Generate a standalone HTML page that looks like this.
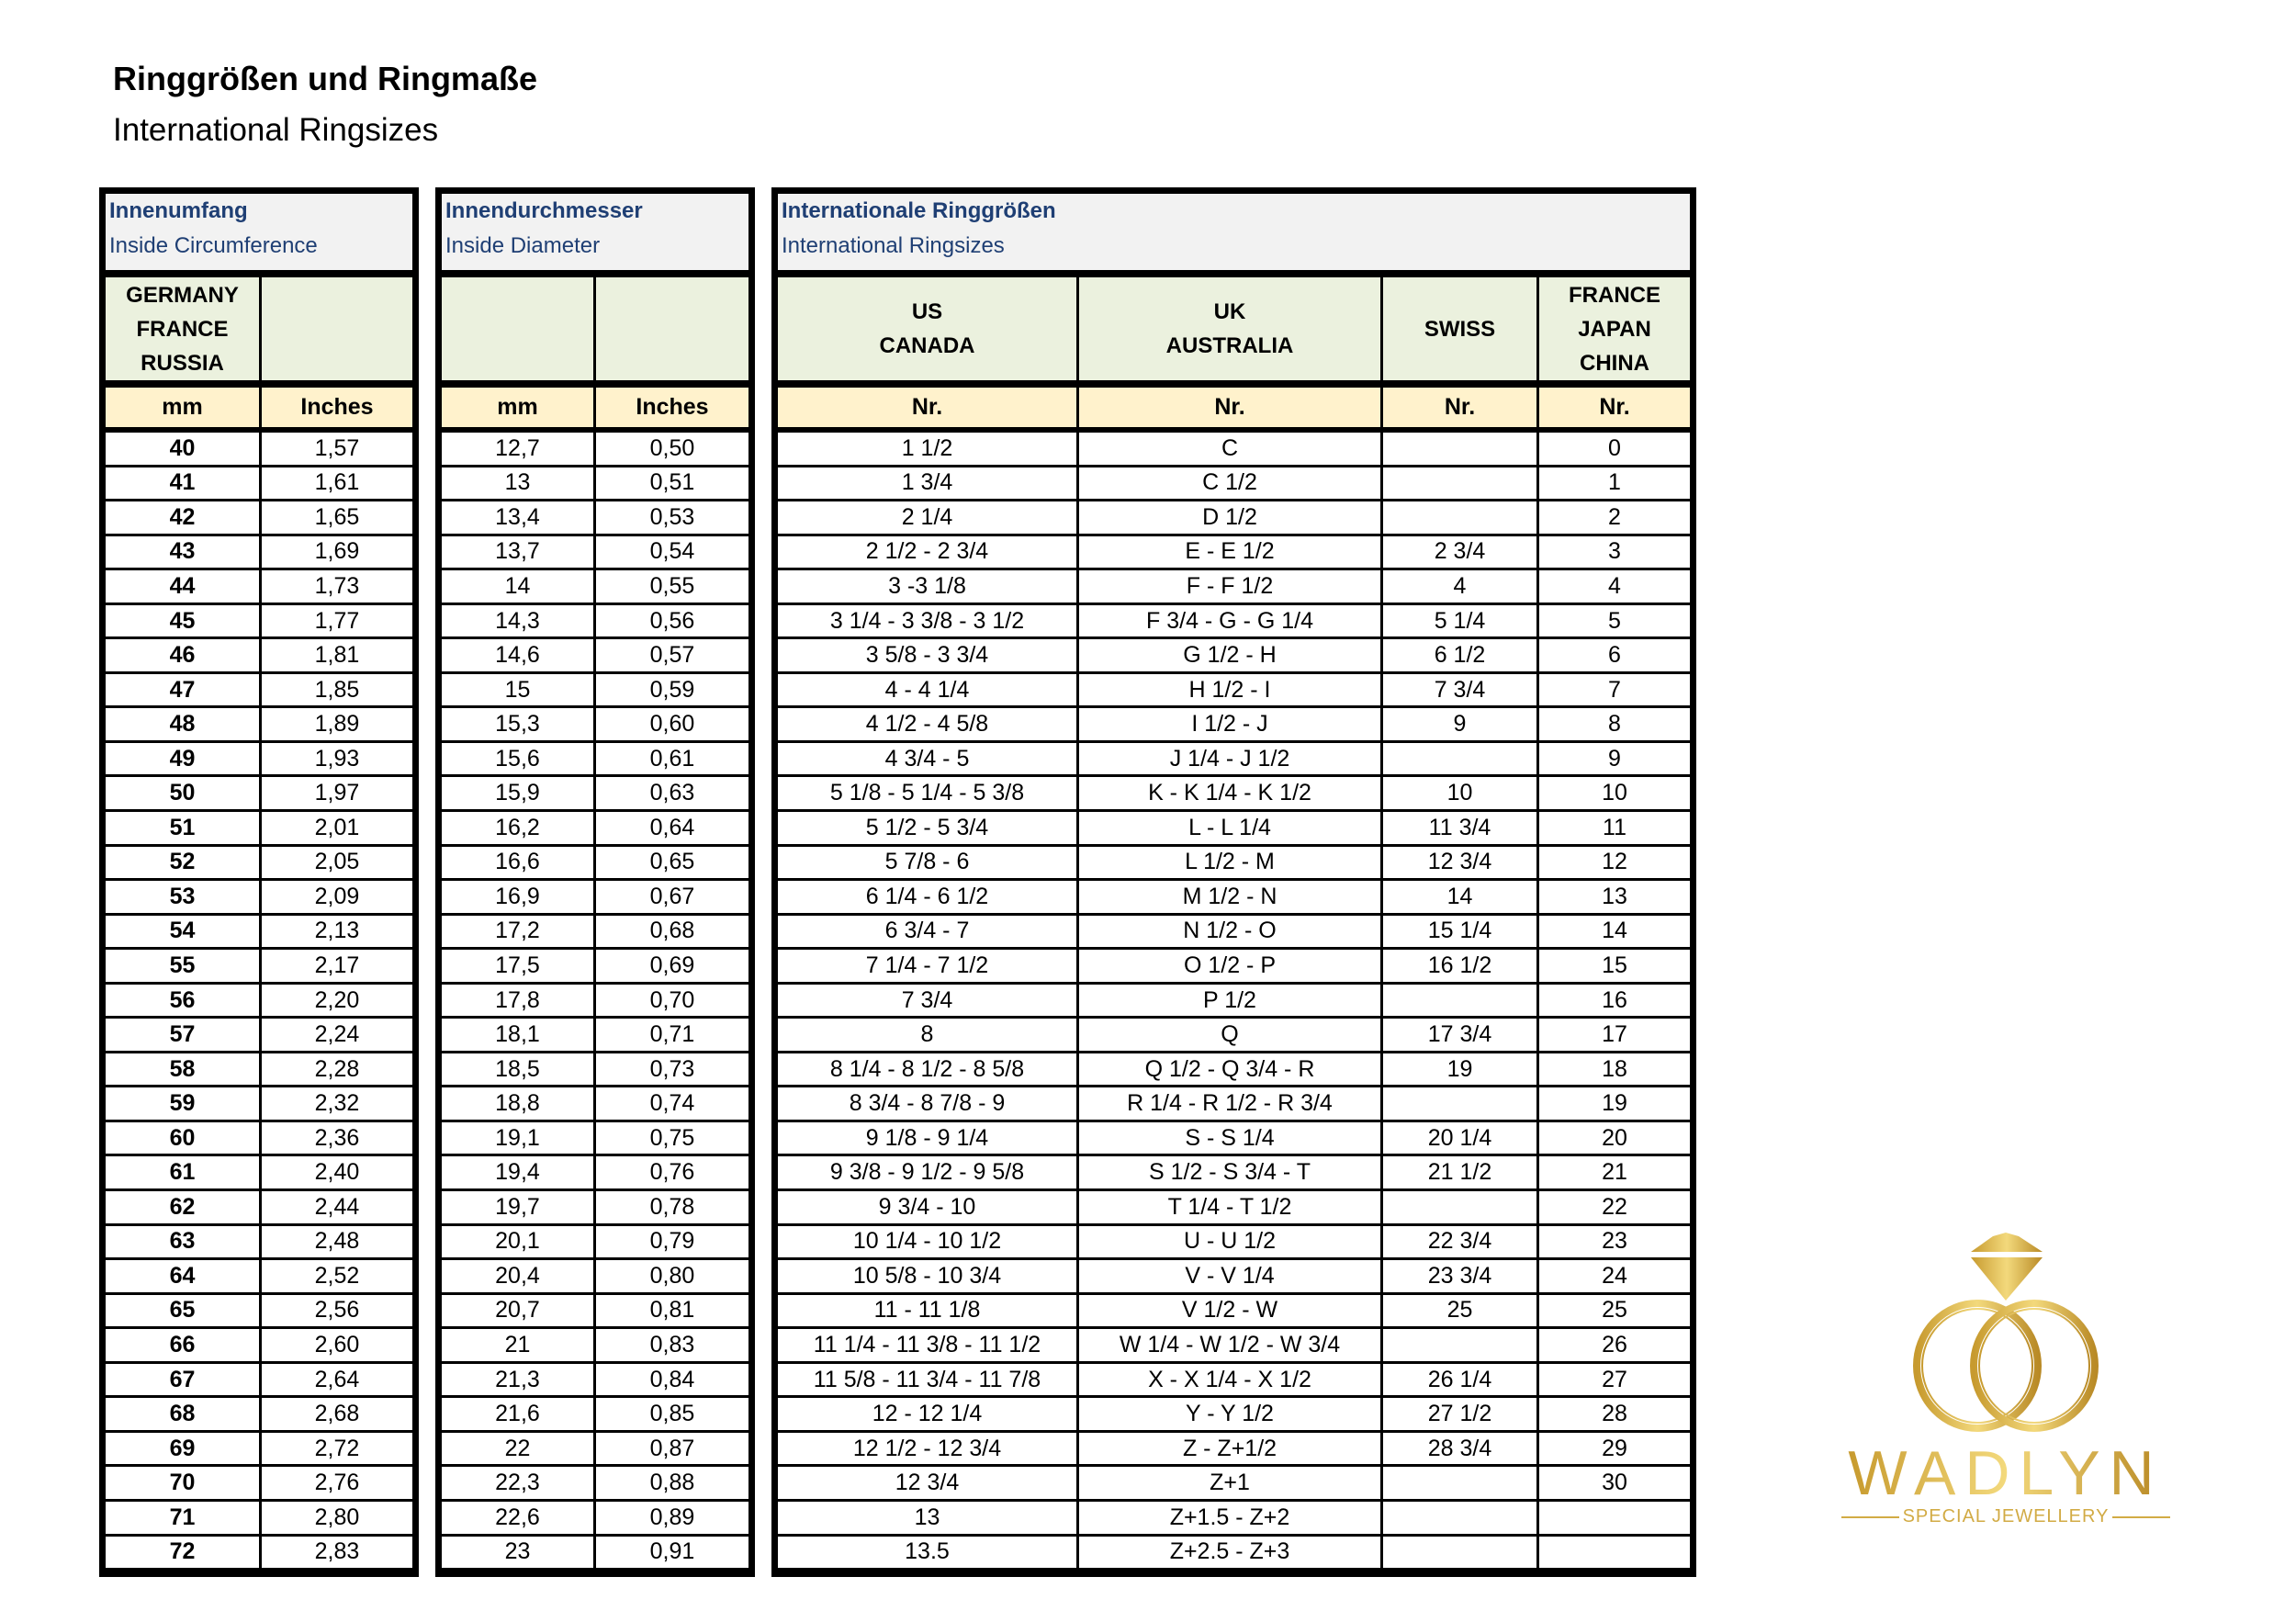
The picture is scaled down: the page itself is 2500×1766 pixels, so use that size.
<!DOCTYPE html>
<html><head><meta charset="utf-8"><style>
*{margin:0;padding:0;box-sizing:border-box}
body{width:2500px;height:1766px;background:#fff;position:relative;overflow:hidden;font-family:"Liberation Sans",sans-serif;color:#000}
.t{position:absolute;top:204px;height:1513px;background:#000;padding:7px;display:grid;column-gap:3px;row-gap:3px;grid-template-rows:88px 117px 46px repeat(33,34.55px)}
.c{background:#fff;display:flex;align-items:center;justify-content:center;font-size:25px;white-space:nowrap}
.b{font-weight:bold}
.h{grid-column:1/-1;background:#f2f2f2;margin-bottom:5px;color:#1f3f74;font-size:24px;line-height:38px;padding-left:4px;white-space:nowrap}
.g{background:#ebf1de;margin-bottom:5px;font-weight:bold;font-size:24px;line-height:37px;flex-direction:column;text-align:center}
.y{background:#fff2cc;margin-bottom:3px;font-weight:bold;font-size:25px}
</style></head><body>
<div style="position:absolute;left:123px;top:62px;font-size:36px;font-weight:bold;line-height:48px;white-space:nowrap">Ringgrößen und Ringmaße</div>
<div style="position:absolute;left:123px;top:118px;font-size:35px;line-height:48px;white-space:nowrap">International Ringsizes</div>

<div class="t" style="left:108px;width:348px;grid-template-columns:167px 164px">
<div class="h"><b>Innenumfang</b><br>Inside Circumference</div>
<div class="c g"><div>GERMANY</div><div>FRANCE</div><div>RUSSIA</div></div><div class="c g"></div>
<div class="c y">mm</div><div class="c y">Inches</div>
<div class="c b">40</div><div class="c">1,57</div><div class="c b">41</div><div class="c">1,61</div><div class="c b">42</div><div class="c">1,65</div><div class="c b">43</div><div class="c">1,69</div><div class="c b">44</div><div class="c">1,73</div><div class="c b">45</div><div class="c">1,77</div><div class="c b">46</div><div class="c">1,81</div><div class="c b">47</div><div class="c">1,85</div><div class="c b">48</div><div class="c">1,89</div><div class="c b">49</div><div class="c">1,93</div><div class="c b">50</div><div class="c">1,97</div><div class="c b">51</div><div class="c">2,01</div><div class="c b">52</div><div class="c">2,05</div><div class="c b">53</div><div class="c">2,09</div><div class="c b">54</div><div class="c">2,13</div><div class="c b">55</div><div class="c">2,17</div><div class="c b">56</div><div class="c">2,20</div><div class="c b">57</div><div class="c">2,24</div><div class="c b">58</div><div class="c">2,28</div><div class="c b">59</div><div class="c">2,32</div><div class="c b">60</div><div class="c">2,36</div><div class="c b">61</div><div class="c">2,40</div><div class="c b">62</div><div class="c">2,44</div><div class="c b">63</div><div class="c">2,48</div><div class="c b">64</div><div class="c">2,52</div><div class="c b">65</div><div class="c">2,56</div><div class="c b">66</div><div class="c">2,60</div><div class="c b">67</div><div class="c">2,64</div><div class="c b">68</div><div class="c">2,68</div><div class="c b">69</div><div class="c">2,72</div><div class="c b">70</div><div class="c">2,76</div><div class="c b">71</div><div class="c">2,80</div><div class="c b">72</div><div class="c">2,83</div>
</div>

<div class="t" style="left:474px;width:348px;grid-template-columns:165px 166px">
<div class="h"><b>Innendurchmesser</b><br>Inside Diameter</div>
<div class="c g"></div><div class="c g"></div>
<div class="c y">mm</div><div class="c y">Inches</div>
<div class="c">12,7</div><div class="c">0,50</div><div class="c">13</div><div class="c">0,51</div><div class="c">13,4</div><div class="c">0,53</div><div class="c">13,7</div><div class="c">0,54</div><div class="c">14</div><div class="c">0,55</div><div class="c">14,3</div><div class="c">0,56</div><div class="c">14,6</div><div class="c">0,57</div><div class="c">15</div><div class="c">0,59</div><div class="c">15,3</div><div class="c">0,60</div><div class="c">15,6</div><div class="c">0,61</div><div class="c">15,9</div><div class="c">0,63</div><div class="c">16,2</div><div class="c">0,64</div><div class="c">16,6</div><div class="c">0,65</div><div class="c">16,9</div><div class="c">0,67</div><div class="c">17,2</div><div class="c">0,68</div><div class="c">17,5</div><div class="c">0,69</div><div class="c">17,8</div><div class="c">0,70</div><div class="c">18,1</div><div class="c">0,71</div><div class="c">18,5</div><div class="c">0,73</div><div class="c">18,8</div><div class="c">0,74</div><div class="c">19,1</div><div class="c">0,75</div><div class="c">19,4</div><div class="c">0,76</div><div class="c">19,7</div><div class="c">0,78</div><div class="c">20,1</div><div class="c">0,79</div><div class="c">20,4</div><div class="c">0,80</div><div class="c">20,7</div><div class="c">0,81</div><div class="c">21</div><div class="c">0,83</div><div class="c">21,3</div><div class="c">0,84</div><div class="c">21,6</div><div class="c">0,85</div><div class="c">22</div><div class="c">0,87</div><div class="c">22,3</div><div class="c">0,88</div><div class="c">22,6</div><div class="c">0,89</div><div class="c">23</div><div class="c">0,91</div>
</div>

<div class="t" style="left:840px;width:1007px;grid-template-columns:325px 328px 167px 164px">
<div class="h"><b>Internationale Ringgrößen</b><br>International Ringsizes</div>
<div class="c g"><div>US</div><div>CANADA</div></div><div class="c g"><div>UK</div><div>AUSTRALIA</div></div><div class="c g"><div>SWISS</div></div><div class="c g"><div>FRANCE</div><div>JAPAN</div><div>CHINA</div></div>
<div class="c y">Nr.</div><div class="c y">Nr.</div><div class="c y">Nr.</div><div class="c y">Nr.</div>
<div class="c">1 1/2</div><div class="c">C</div><div class="c"></div><div class="c">0</div>
<div class="c">1 3/4</div><div class="c">C 1/2</div><div class="c"></div><div class="c">1</div>
<div class="c">2 1/4</div><div class="c">D 1/2</div><div class="c"></div><div class="c">2</div>
<div class="c">2 1/2 - 2 3/4</div><div class="c">E - E 1/2</div><div class="c">2 3/4</div><div class="c">3</div>
<div class="c">3 -3 1/8</div><div class="c">F - F 1/2</div><div class="c">4</div><div class="c">4</div>
<div class="c">3 1/4 - 3 3/8 - 3 1/2</div><div class="c">F 3/4 - G - G 1/4</div><div class="c">5 1/4</div><div class="c">5</div>
<div class="c">3 5/8 - 3 3/4</div><div class="c">G 1/2 - H</div><div class="c">6 1/2</div><div class="c">6</div>
<div class="c">4 - 4 1/4</div><div class="c">H 1/2 - I</div><div class="c">7 3/4</div><div class="c">7</div>
<div class="c">4 1/2 - 4 5/8</div><div class="c">I 1/2 - J</div><div class="c">9</div><div class="c">8</div>
<div class="c">4 3/4 - 5</div><div class="c">J 1/4 - J 1/2</div><div class="c"></div><div class="c">9</div>
<div class="c">5 1/8 - 5 1/4 - 5 3/8</div><div class="c">K - K 1/4 - K 1/2</div><div class="c">10</div><div class="c">10</div>
<div class="c">5 1/2 - 5 3/4</div><div class="c">L - L 1/4</div><div class="c">11 3/4</div><div class="c">11</div>
<div class="c">5 7/8 - 6</div><div class="c">L 1/2 - M</div><div class="c">12 3/4</div><div class="c">12</div>
<div class="c">6 1/4 - 6 1/2</div><div class="c">M 1/2 - N</div><div class="c">14</div><div class="c">13</div>
<div class="c">6 3/4 - 7</div><div class="c">N 1/2 - O</div><div class="c">15 1/4</div><div class="c">14</div>
<div class="c">7 1/4 - 7 1/2</div><div class="c">O 1/2 - P</div><div class="c">16 1/2</div><div class="c">15</div>
<div class="c">7 3/4</div><div class="c">P 1/2</div><div class="c"></div><div class="c">16</div>
<div class="c">8</div><div class="c">Q</div><div class="c">17 3/4</div><div class="c">17</div>
<div class="c">8 1/4 - 8 1/2 - 8 5/8</div><div class="c">Q 1/2 - Q 3/4 - R</div><div class="c">19</div><div class="c">18</div>
<div class="c">8 3/4 - 8 7/8 - 9</div><div class="c">R 1/4 - R 1/2 - R 3/4</div><div class="c"></div><div class="c">19</div>
<div class="c">9 1/8 - 9 1/4</div><div class="c">S - S 1/4</div><div class="c">20 1/4</div><div class="c">20</div>
<div class="c">9 3/8 - 9 1/2 - 9 5/8</div><div class="c">S 1/2 - S 3/4 - T</div><div class="c">21 1/2</div><div class="c">21</div>
<div class="c">9 3/4 - 10</div><div class="c">T 1/4 - T 1/2</div><div class="c"></div><div class="c">22</div>
<div class="c">10 1/4 - 10 1/2</div><div class="c">U - U 1/2</div><div class="c">22 3/4</div><div class="c">23</div>
<div class="c">10 5/8 - 10 3/4</div><div class="c">V - V 1/4</div><div class="c">23 3/4</div><div class="c">24</div>
<div class="c">11 - 11 1/8</div><div class="c">V 1/2 - W</div><div class="c">25</div><div class="c">25</div>
<div class="c">11 1/4 - 11 3/8 - 11 1/2</div><div class="c">W 1/4 - W 1/2 - W 3/4</div><div class="c"></div><div class="c">26</div>
<div class="c">11 5/8 - 11 3/4 - 11 7/8</div><div class="c">X - X 1/4 - X 1/2</div><div class="c">26 1/4</div><div class="c">27</div>
<div class="c">12 - 12 1/4</div><div class="c">Y - Y 1/2</div><div class="c">27 1/2</div><div class="c">28</div>
<div class="c">12 1/2 - 12 3/4</div><div class="c">Z - Z+1/2</div><div class="c">28 3/4</div><div class="c">29</div>
<div class="c">12 3/4</div><div class="c">Z+1</div><div class="c"></div><div class="c">30</div>
<div class="c">13</div><div class="c">Z+1.5 - Z+2</div><div class="c"></div><div class="c"></div>
<div class="c">13.5</div><div class="c">Z+2.5 - Z+3</div><div class="c"></div><div class="c"></div>
</div>

<svg style="position:absolute;left:2000px;top:1330px" width="420" height="360" viewBox="0 0 420 360">
<defs><linearGradient id="gd" x1="0" x2="1" y1="0" y2="0"><stop offset="0" stop-color="#c79a2e"/><stop offset="0.5" stop-color="#f3d97c"/><stop offset="1" stop-color="#b98a26"/></linearGradient></defs>
<g fill="url(#gd)">
<polygon points="146,33 170,16 184,12 198,16 224,33"/>
<polygon points="146,39 224,39 184,86"/>
</g>
<g fill="none" stroke="url(#gd)">
<ellipse cx="153" cy="157" rx="66" ry="68" stroke-width="8"/>
<ellipse cx="153" cy="157" rx="60" ry="62" stroke-width="2"/>
<ellipse cx="215" cy="157" rx="66" ry="68" stroke-width="8"/>
<ellipse cx="215" cy="157" rx="60" ry="62" stroke-width="2"/>
</g>
<text x="184" y="297" text-anchor="middle" font-family="Liberation Sans,sans-serif" font-size="68" fill="url(#gd)" letter-spacing="10">WADLYN</text>
<text x="184" y="327" text-anchor="middle" font-family="Liberation Sans,sans-serif" font-size="20" fill="#d2ab45" letter-spacing="1">SPECIAL JEWELLERY</text>
<line x1="5" y1="322" x2="68" y2="322" stroke="#d2ab45" stroke-width="2"/>
<line x1="300" y1="322" x2="363" y2="322" stroke="#d2ab45" stroke-width="2"/>
</svg>
</body></html>
